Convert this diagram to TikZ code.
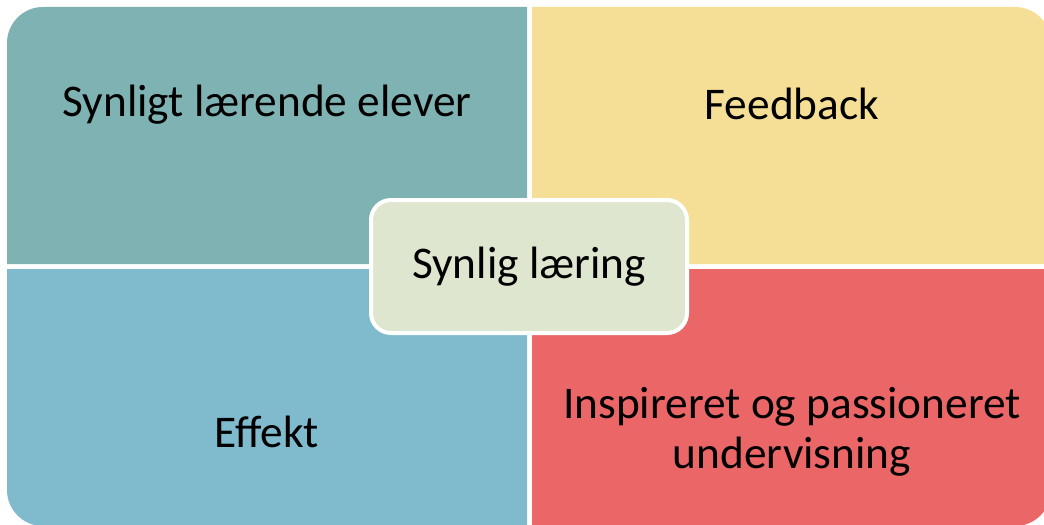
\documentclass[tikz,border=0pt]{standalone}
\usepackage{fontspec}
\setmainfont{Carlito}
\definecolor{tealq}{RGB}{127,178,178}
\definecolor{yellowq}{RGB}{245,223,150}
\definecolor{blueq}{RGB}{127,186,205}
\definecolor{redq}{RGB}{235,103,103}
\definecolor{centrefill}{RGB}{222,230,208}
\begin{document}
\begin{tikzpicture}[x=0.75pt,y=-0.75pt]
  \useasboundingbox (0,0) rectangle (1044,524);
  \clip (0,0) rectangle (1044,524);
  % quadrants
  \fill[tealq] (527,264) -- (7,264) [rounded corners=27pt] -- (7,7) [sharp corners] -- (527,7) -- cycle;
  \fill[yellowq] (532,264) -- (532,7) [rounded corners=27pt] -- (1051,7) [sharp corners] -- (1051,264) -- cycle;
  \fill[blueq] (527,269) -- (527,526) [rounded corners=27pt] -- (7,526) [sharp corners] -- (7,269) -- cycle;
  \fill[redq] (532,269) -- (1051,269) [rounded corners=27pt] -- (1051,526) [sharp corners] -- (532,526) -- cycle;
  \begin{scope}[every node/.style={font=\fontsize{34}{37.5}\selectfont,align=center}]
  \node (elever) at (267,105) {Synligt lærende elever};
  \node (feedback) at (792,104) {Feedback};
  \node (effekt) at (267,432) {Effekt};
  \node (undervisning) at (792,432) {Inspireret og passioneret\\undervisning};
  \node[draw=white,fill=centrefill,line width=3pt,rounded corners=15pt,
    minimum width=237pt,minimum height=99.75pt] (laering) at (529,266.5) {\raisebox{-2pt}{Synlig læring}};
  \end{scope}
\end{tikzpicture}
\end{document}
